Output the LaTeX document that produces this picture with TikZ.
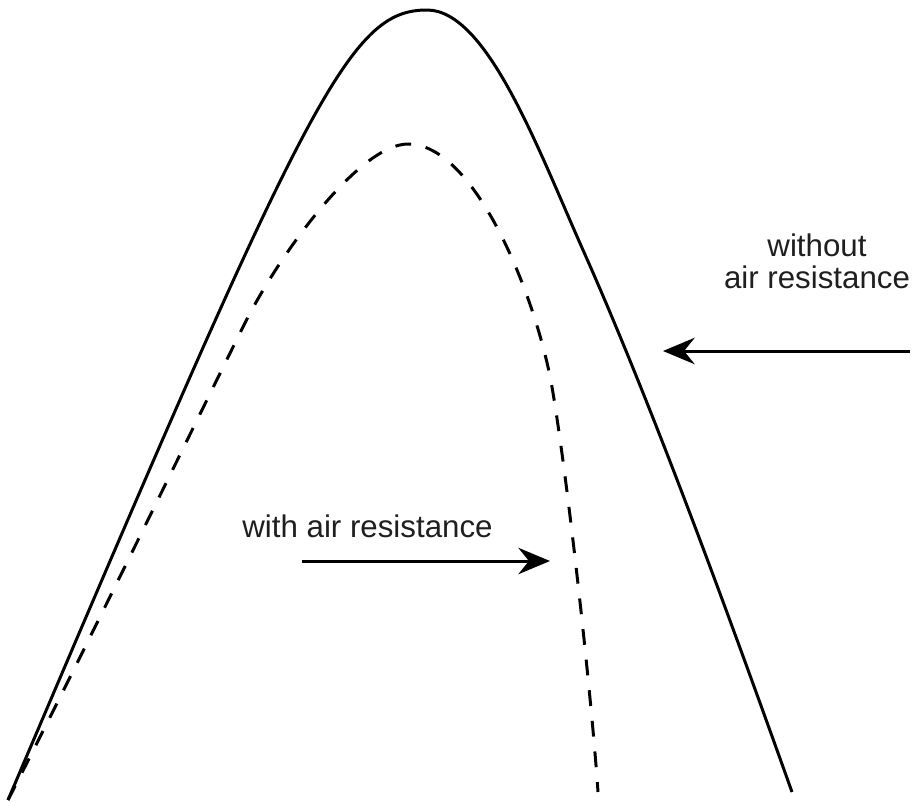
\documentclass[tikz,border=0pt]{standalone}
\usepackage{fontspec}
\setmainfont{Liberation Sans}
\usepackage{tikz}
\usetikzlibrary{arrows.meta}

\begin{document}
\begin{tikzpicture}[
  x=0.02cm, y=-0.02cm,
  orbit/.style={line width=1.7pt, line join=round},
  dragorbit/.style={orbit, dash pattern=on 9pt off 8.5pt},
  note/.style={inner sep=0pt, text=black!88, font=\fontsize{17.8}{18.2}\selectfont},
  pointer/.style={line width=1.7pt,
                  -{Stealth[length=18pt, width=15pt, inset=6pt]}},
]
\useasboundingbox (0,0) rectangle (920,802);

% path without air resistance
\draw[orbit] (8,800) .. controls (308,95) and (349,10) .. (427,10)
  .. controls (487,10) and (538,149) .. (583,250)
  .. controls (653,407) and (732,624) .. (792,792);

% path with air resistance
\draw[dragorbit] (8,800) .. controls (90,640) and (200,413) .. (245,323)
  .. controls (280,253) and (360,144) .. (408,144)
  .. controls (476,144) and (537,300) .. (552,387)
  .. controls (568,480) and (592,702) .. (598,792);

\node[note, anchor=base west] (withtxt) at (242,537) {with air resistance};
\node[note, anchor=base, align=center] (notxt) at (817,288)
  {without\\air resistance};

\coordinate (withtail) at (302,561);
\coordinate (withtip)  at (550,561);
\coordinate (notail)   at (910,351);
\coordinate (notip)    at (663,351);

\draw[pointer] (withtail) -- (withtip);
\draw[pointer] (notail) -- (notip);
\end{tikzpicture}
\end{document}
